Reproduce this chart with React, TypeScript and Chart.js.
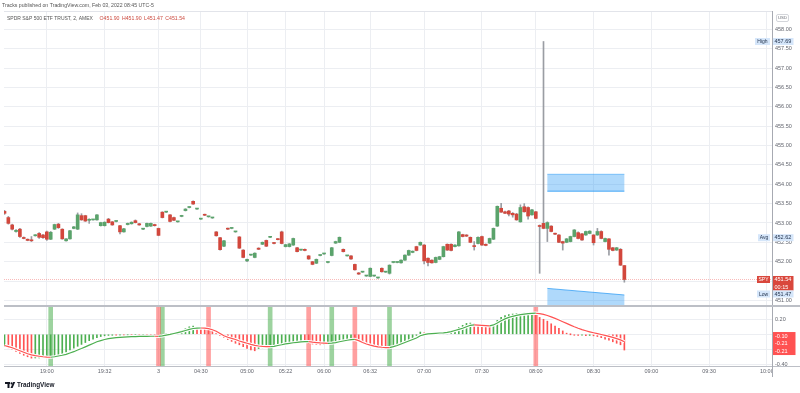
import React, { useEffect, useRef } from "react";
import { Chart, registerables } from "chart.js";
Chart.register(...registerables);

// ---------- DATA ----------
const opens = [453.30,453.14,452.95,452.78,452.84,452.62,452.58,452.55,452.67,452.73,452.69,452.77,452.58,452.84,452.97,452.84,452.54,452.59,452.86,452.84,453.19,453.19,453.07,453.08,453.08,452.93,452.93,453.10,453.03,453.04,452.93,452.77,452.96,452.98,453.06,452.98,452.84,452.91,452.92,452.96,452.86,453.28,453.28,453.21,453.14,453.03,453.17,453.32,453.40,453.56,453.36,453.10,453.22,453.16,453.13,452.77,452.62,452.40,452.86,452.86,452.77,452.64,452.30,452.02,452.17,452.11,452.35,452.45,452.55,452.63,452.49,452.59,452.77,452.39,452.39,452.43,452.36,452.30,452.32,452.15,452.00,451.96,452.16,452.20,451.98,452.16,452.48,452.50,452.32,452.15,452.15,451.93,451.71,451.73,451.63,451.62,451.63,451.58,451.83,451.73,451.70,451.98,451.98,451.97,452.04,452.17,452.24,452.39,452.43,452.43,452.09,452.04,451.98,452.06,452.13,452.45,452.45,452.39,452.41,452.70,452.69,452.63,452.41,452.47,452.65,452.45,452.48,452.58,452.92,453.38,453.29,453.31,453.25,453.23,453.03,453.42,453.40,453.21,453.29,452.93,452.99,452.86,452.92,452.73,452.69,452.52,452.50,452.52,452.65,452.75,452.72,452.69,452.73,452.69,452.69,452.78,452.52,452.59,452.36,452.30,452.32,451.90];
const highs = [453.33,453.17,452.97,452.83,452.86,452.64,452.59,452.65,452.70,452.75,452.71,452.79,452.78,452.97,452.99,452.85,452.60,452.81,452.91,453.26,453.24,453.20,453.11,453.09,453.22,453.02,453.03,453.12,453.04,453.05,452.94,452.86,453.00,453.03,453.08,452.99,452.85,453.00,453.00,452.97,452.87,453.29,453.29,453.22,453.15,453.04,453.20,453.37,453.42,453.57,453.37,453.11,453.23,453.17,453.14,452.78,452.63,452.55,452.87,452.87,452.78,452.65,452.31,452.07,452.18,452.23,452.36,452.51,452.56,452.64,452.50,452.60,452.79,452.45,452.47,452.61,452.37,452.31,452.33,452.16,452.01,452.07,452.17,452.21,451.99,452.37,452.53,452.64,452.33,452.16,452.16,451.94,451.72,451.74,451.64,451.84,451.64,451.59,451.84,451.74,451.92,451.99,451.99,452.05,452.18,452.30,452.28,452.40,452.51,452.44,452.10,452.05,452.12,452.14,452.40,452.46,452.46,452.44,452.78,452.71,452.70,452.64,452.52,452.64,452.66,452.46,452.61,452.87,453.44,453.51,453.31,453.33,453.27,453.25,453.47,453.50,453.42,453.35,453.30,452.95,457.69,453.03,452.93,452.74,452.70,452.53,452.60,452.66,452.83,452.77,452.73,452.79,452.80,452.70,452.86,452.80,452.61,452.60,452.37,452.37,452.34,451.90];
const lows = [453.22,452.97,452.82,452.76,452.63,452.59,452.54,452.52,452.66,452.60,452.60,452.55,452.57,452.83,452.86,452.58,452.53,452.58,452.85,452.83,453.07,453.04,452.99,453.07,453.07,452.92,452.92,453.00,452.94,453.03,452.72,452.76,452.95,452.97,453.00,452.94,452.83,452.90,452.91,452.92,452.67,453.13,453.27,453.03,453.06,453.02,453.16,453.31,453.39,453.48,453.35,453.09,453.19,453.15,453.12,452.66,452.30,452.39,452.83,452.85,452.76,452.34,452.10,452.00,452.16,452.10,452.31,452.44,452.39,452.62,452.46,452.56,452.46,452.38,452.38,452.42,452.25,452.29,452.28,452.06,451.92,451.95,452.15,452.19,451.97,452.15,452.47,452.49,452.25,452.14,452.06,451.78,451.67,451.72,451.62,451.61,451.62,451.57,451.73,451.72,451.68,451.97,451.97,451.96,452.03,452.16,452.23,452.28,452.42,451.94,451.89,451.96,451.97,452.05,452.12,452.29,452.28,452.38,452.40,452.64,452.65,452.49,452.30,452.46,452.42,452.41,452.47,452.57,452.91,453.27,453.24,453.18,453.15,453.07,453.02,453.28,453.10,453.20,453.11,451.70,452.85,452.52,452.77,452.70,452.49,452.30,452.49,452.51,452.64,452.59,452.55,452.68,452.72,452.43,452.68,452.59,452.51,452.17,452.28,452.29,451.90,451.47];
const closes = [453.25,452.99,452.84,452.81,452.65,452.60,452.55,452.54,452.69,452.63,452.62,452.58,452.76,452.96,452.88,452.59,452.59,452.80,452.90,453.21,453.08,453.05,453.08,453.08,453.21,453.01,453.02,453.01,452.95,453.04,452.77,452.85,452.99,453.02,453.01,452.95,452.84,452.99,452.99,452.93,452.68,453.14,453.28,453.04,453.07,453.03,453.19,453.36,453.41,453.49,453.36,453.10,453.20,453.16,453.13,452.67,452.31,452.54,452.84,452.86,452.77,452.35,452.11,452.06,452.17,452.22,452.32,452.50,452.40,452.63,452.47,452.57,452.47,452.44,452.46,452.60,452.26,452.30,452.29,452.07,451.93,452.06,452.16,452.20,451.98,452.36,452.52,452.63,452.26,452.15,452.07,451.79,451.68,451.73,451.63,451.83,451.63,451.58,451.74,451.73,451.91,451.98,451.98,452.04,452.17,452.29,452.27,452.29,452.50,452.02,451.98,451.97,452.11,452.13,452.39,452.30,452.29,452.43,452.77,452.65,452.66,452.50,452.39,452.63,452.43,452.42,452.60,452.86,453.43,453.28,453.25,453.23,453.21,453.08,453.40,453.29,453.18,453.34,453.12,452.91,452.86,453.01,452.78,452.71,452.50,452.48,452.59,452.65,452.82,452.60,452.56,452.78,452.79,452.49,452.78,452.60,452.60,452.32,452.29,452.36,451.91,451.54];

const macdHist = [-0.165,-0.18,-0.20,-0.23,-0.255,-0.28,-0.30,-0.318,-0.316,-0.314,-0.31,-0.305,-0.295,-0.285,-0.27,-0.255,-0.235,-0.21,-0.185,-0.16,-0.135,-0.11,-0.085,-0.065,-0.045,-0.03,-0.02,-0.015,-0.01,-0.012,-0.008,-0.01,-0.006,-0.009,-0.005,-0.007,-0.004,-0.006,-0.01,-0.015,-0.02,-0.008,0.0,0.01,0.02,0.03,0.05,0.075,0.10,0.11,0.09,0.085,0.08,0.075,0.05,0.01,-0.02,-0.045,-0.07,-0.095,-0.12,-0.14,-0.165,-0.19,-0.21,-0.22,-0.19,-0.18,-0.175,-0.165,-0.155,-0.15,-0.14,-0.13,-0.12,-0.115,-0.11,-0.105,-0.11,-0.12,-0.13,-0.135,-0.14,-0.135,-0.125,-0.11,-0.095,-0.08,-0.07,-0.06,-0.055,-0.07,-0.09,-0.11,-0.13,-0.15,-0.165,-0.178,-0.185,-0.19,-0.185,-0.17,-0.15,-0.13,-0.11,-0.08,-0.05,-0.015,0.03,0.02,0.01,0.015,0.012,0.018,0.022,0.03,0.045,0.065,0.09,0.12,0.145,0.15,0.14,0.125,0.11,0.10,0.095,0.12,0.185,0.225,0.25,0.262,0.27,0.276,0.28,0.282,0.283,0.284,0.26,0.225,0.20,0.175,0.14,0.11,0.08,0.045,0.015,0.0,-0.01,-0.015,-0.012,-0.018,-0.015,-0.02,-0.03,-0.045,-0.065,-0.08,-0.10,-0.12,-0.14,-0.21];
const signalLine = [-0.15,-0.165,-0.18,-0.20,-0.22,-0.24,-0.26,-0.275,-0.285,-0.293,-0.30,-0.305,-0.306,-0.30,-0.29,-0.28,-0.267,-0.25,-0.232,-0.21,-0.19,-0.168,-0.145,-0.122,-0.10,-0.085,-0.07,-0.058,-0.05,-0.044,-0.04,-0.037,-0.034,-0.032,-0.03,-0.029,-0.028,-0.027,-0.026,-0.026,-0.028,-0.022,-0.012,-0.002,0.01,0.022,0.035,0.05,0.065,0.077,0.082,0.084,0.082,0.076,0.06,0.04,0.01,-0.02,-0.04,-0.055,-0.07,-0.09,-0.105,-0.12,-0.135,-0.148,-0.156,-0.161,-0.164,-0.165,-0.16,-0.15,-0.14,-0.128,-0.12,-0.113,-0.107,-0.102,-0.098,-0.097,-0.105,-0.11,-0.115,-0.118,-0.12,-0.118,-0.11,-0.10,-0.09,-0.08,-0.07,-0.068,-0.085,-0.11,-0.13,-0.145,-0.158,-0.167,-0.173,-0.177,-0.178,-0.165,-0.15,-0.13,-0.11,-0.09,-0.07,-0.05,-0.02,-0.005,0.005,0.01,0.013,0.017,0.02,0.025,0.035,0.05,0.065,0.08,0.10,0.12,0.125,0.122,0.118,0.115,0.113,0.125,0.15,0.18,0.205,0.225,0.24,0.252,0.262,0.27,0.276,0.28,0.281,0.275,0.265,0.25,0.232,0.212,0.19,0.168,0.145,0.122,0.10,0.08,0.062,0.047,0.033,0.02,0.008,-0.003,-0.015,-0.028,-0.042,-0.058,-0.075,-0.10];

const crossUpBars = [12, 41, 69, 85, 100];
const crossDownBars = [40, 53, 79, 91, 138];

const timeTickBars = [11, 26, 40, 51, 63, 73, 83, 95, 109, 124, 138, 153, 168, 183, 198];
const timeTickLabels = ["19:00", "19:32", "3", "04:30", "05:00", "05:22", "06:00", "06:32", "07:00", "07:30", "08:00", "08:30", "09:00", "09:30", "10:00"];
const priceTicks = [451, 451.5, 452, 452.5, 453, 453.5, 454, 454.5, 455, 455.5, 456, 456.5, 457, 457.5, 458];
const indicatorTicks = [-0.4, -0.2, 0, 0.2];

const avgPrice = 452.62;
const countdownText = "00:15";
const symbolTitle = "SPDR S&P 500 ETF TRUST, 2, AMEX";
const publishLine = "Tracks published on TradingView.com, Feb 03, 2022 08:45 UTC-5";
// zones: [fromBar, toBar, lowPrice, highPrice]
const upperZone = [141, 161, 453.81, 454.27];
// [fromBar, toBar, topPriceAtStart, topPriceAtEnd, bottomPrice]
const lowerZone = [141, 161, 451.31, 451.14, 450.4];

// ---------- VIEW ----------
const X_MIN = -0.13;
const X_MAX = 199.35;
const P_MIN = 450.855;
const P_MAX = 458.478;
const I_MIN = -0.423;
const I_MAX = 0.364;

const FONT = "'Liberation Sans', Arial, sans-serif";
const GRID = "#eceef2";
const AXIS = "#a7aab2";
const SEP = "#bcbfc6";
const TXT = "#62656e";
const UP = "#5aa36b";
const DOWN = "#d2473c";
const WICK = "#9a9da3";
const H_UP = "#4caf50";
const H_DN = "#ff5252";
const TAG_BLUE = "#d5e6fa";
const TAG_BLUE_TXT = "#263650";
const TAG_RED = "#d9473c";

function txt(ctx: CanvasRenderingContext2D, s: string, x: number, y: number, color: string, size: number, align: CanvasTextAlign = "left", weight = "normal") {
  ctx.font = `${weight} ${size}px ${FONT}`;
  ctx.fillStyle = color;
  ctx.textAlign = align;
  ctx.textBaseline = "middle";
  ctx.fillText(s, x, y);
}
function hline(ctx: CanvasRenderingContext2D, x0: number, x1: number, y: number, color: string, w = 1) {
  ctx.strokeStyle = color; ctx.lineWidth = w;
  ctx.beginPath(); ctx.moveTo(x0, y); ctx.lineTo(x1, y); ctx.stroke();
}
function vline(ctx: CanvasRenderingContext2D, x: number, y0: number, y1: number, color: string, w = 1) {
  ctx.strokeStyle = color; ctx.lineWidth = w;
  ctx.beginPath(); ctx.moveTo(x, y0); ctx.lineTo(x, y1); ctx.stroke();
}

const last = closes.length - 1;

const mainPlugin = {
  id: "mainDecor",
  beforeDatasetsDraw(chart: any) {
    const { ctx, chartArea: a } = chart;
    const xs = chart.scales.x, ys = chart.scales.y;
    ctx.save();
    ctx.beginPath(); ctx.rect(a.left, a.top, a.right - a.left, a.bottom - a.top); ctx.clip();
    // upper zone
    const ux0 = xs.getPixelForValue(upperZone[0]), ux1 = xs.getPixelForValue(upperZone[1]);
    const uTop = ys.getPixelForValue(upperZone[3]), uBot = ys.getPixelForValue(upperZone[2]);
    ctx.fillStyle = "rgba(33,150,243,0.36)";
    ctx.fillRect(ux0, uTop, ux1 - ux0, uBot - uTop);
    hline(ctx, ux0, ux1, uTop + 0.5, "rgba(33,150,243,0.35)");
    hline(ctx, ux0, ux1, uBot - 0.5, "rgba(33,150,243,0.7)");
    // lower zone
    const lx0 = xs.getPixelForValue(lowerZone[0]), lx1 = xs.getPixelForValue(lowerZone[1]);
    const l0 = ys.getPixelForValue(lowerZone[2]), l1 = ys.getPixelForValue(lowerZone[3]);
    const lb = ys.getPixelForValue(lowerZone[4]);
    ctx.fillStyle = "rgba(33,150,243,0.36)";
    ctx.beginPath(); ctx.moveTo(lx0, l0); ctx.lineTo(lx1, l1); ctx.lineTo(lx1, lb); ctx.lineTo(lx0, lb); ctx.closePath(); ctx.fill();
    ctx.strokeStyle = "rgba(33,150,243,0.7)"; ctx.lineWidth = 1;
    ctx.beginPath(); ctx.moveTo(lx0, l0); ctx.lineTo(lx1, l1); ctx.stroke();
    // last price dotted line
    const py = Math.round(ys.getPixelForValue(closes[last])) + 0.5;
    ctx.setLineDash([1, 1]);
    hline(ctx, a.left, a.right, py, "rgba(239,83,80,0.4)");
    ctx.setLineDash([]);
    ctx.restore();
  },
  afterDraw(chart: any) {
    const { ctx, chartArea: a } = chart;
    const ys = chart.scales.y;
    ctx.save();
    hline(ctx, a.left, a.right, a.top + 0.5, "#e2e4ea");
    vline(ctx, a.right + 0.5, a.top, chart.height, AXIS);
    hline(ctx, a.left, chart.width, chart.height - 1, SEP, 2);

    // header
    txt(ctx, publishLine, 2, 6, "#555", 5.2);
    txt(ctx, symbolTitle, 7, 18.3, "#555", 5);
    ctx.font = `5.2px ${FONT}`;
    let hx = 7 + ctx.measureText(symbolTitle).width + 3.5;
    const parts = ["O" + opens[last].toFixed(2), "H" + highs[last].toFixed(2), "L" + lows[last].toFixed(2), "C" + closes[last].toFixed(2)];
    for (const p of parts) {
      txt(ctx, p, hx, 18.3, "#cc4a3f", 5.2);
      ctx.font = `5.2px ${FONT}`;
      hx += ctx.measureText(p).width + 2.5;
    }

    // USD box
    ctx.strokeStyle = "#c8cad0"; ctx.lineWidth = 0.8;
    ctx.beginPath(); (ctx as any).roundRect ? (ctx as any).roundRect(776.5, 14.5, 12, 7, 1.5) : ctx.rect(776.5, 14.5, 12, 7); ctx.stroke();
    txt(ctx, "USD", 782.5, 18.1, "#6a6d76", 4.3, "center");

    const tag = (label: string, cy: number, x0: number, bg: string, fg: string, lines: string[]) => {
      const h = 7;
      ctx.fillStyle = bg;
      ctx.fillRect(x0, cy - h / 2, 770 - x0, h);
      txt(ctx, label, (x0 + 770) / 2, cy + 0.2, fg, 5, "center");
      const ph = h + (lines.length - 1) * 7.5;
      ctx.fillStyle = bg;
      ctx.fillRect(773, cy - h / 2, 20.5, ph);
      lines.forEach((s, k) => txt(ctx, s, 774.5, cy + 0.2 + k * 7.5, fg, 5.5));
    };
    const maxHigh = Math.max(...highs);
    const minLow = Math.min(...lows);
    tag("High", ys.getPixelForValue(maxHigh), 755, TAG_BLUE, TAG_BLUE_TXT, [maxHigh.toFixed(2)]);
    tag("Avg", ys.getPixelForValue(avgPrice), 758, TAG_BLUE, TAG_BLUE_TXT, [avgPrice.toFixed(2)]);
    const spyY = ys.getPixelForValue(closes[last]);
    tag("SPY", spyY, 757, TAG_RED, "#ffffff", [closes[last].toFixed(2), countdownText]);
    const lowY = Math.max(ys.getPixelForValue(minLow), spyY + 3.5 + 7.5 + 3.5);
    tag("Low", lowY, 757, TAG_BLUE, TAG_BLUE_TXT, [minLow.toFixed(2)]);
    ctx.restore();
  },
};

const indPlugin = {
  id: "indDecor",
  afterDraw(chart: any) {
    const { ctx, chartArea: a } = chart;
    const ys = chart.scales.y;
    ctx.save();
    ctx.fillStyle = "#ffffff";
    ctx.fillRect(a.right, a.bottom + 0.5, chart.width - a.right, chart.height - a.bottom);
    hline(ctx, a.left, chart.width, a.bottom + 0.5, SEP);
    vline(ctx, a.right + 0.5, 0, a.bottom + 11, AXIS);

    // value labels
    const vals = [signalLine[last], macdHist[last], macdHist[last]].sort((p, q) => q - p);
    const baseY = ys.getPixelForValue(Math.min(...vals)) + 1;
    const n = vals.length;
    const top = baseY - (n - 1) * 7.5 - 4;
    ctx.fillStyle = "#ff5252";
    ctx.fillRect(773, top, 22.5, (n - 1) * 7.5 + 8);
    vals.forEach((v, k) => txt(ctx, v.toFixed(2), 775, baseY - (n - 1 - k) * 7.5, "#ffffff", 5.5));

    // logo
    const ly = 78;
    ctx.fillStyle = "#131722";
    ctx.fillRect(5, ly - 3, 5, 2);
    ctx.fillRect(7.5, ly - 3, 2, 6);
    ctx.beginPath(); ctx.arc(11.6, ly - 1.6, 1.1, 0, Math.PI * 2); ctx.fill();
    ctx.beginPath(); ctx.moveTo(10.5, ly + 3); ctx.lineTo(13.2, ly - 3); ctx.lineTo(15.2, ly - 3); ctx.lineTo(12.6, ly + 3); ctx.closePath(); ctx.fill();
    txt(ctx, "TradingView", 17, ly + 0.3, "#131722", 6.4, "left", "bold");
    ctx.restore();
  },
};

const fitRightAxis = (s: any) => {
  s.width = 28;
  s.paddingTop = 0;
  s.paddingBottom = 0;
};

export default function App() {
  const refA = useRef<HTMLCanvasElement>(null);
  const refB = useRef<HTMLCanvasElement>(null);

  useEffect(() => {
    if (!refA.current || !refB.current) return;
    const isUp = opens.map((o, i) => closes[i] >= o);
    const bodyData = opens.map((o, i) => ({ x: i, y: [Math.min(o, closes[i]), Math.max(o, closes[i])] }));
    const wickData = opens.map((_o, i) => ({ x: i, y: [lows[i], highs[i]] }));

    const xCommon = {
      type: "linear" as const,
      min: X_MIN,
      max: X_MAX,
      offset: false,
      border: { display: false },
      grid: { color: GRID, drawTicks: false, offset: false },
      afterBuildTicks: (s: any) => { s.ticks = timeTickBars.map((v) => ({ value: v })); },
    };

    const chartA = new Chart(refA.current, {
      type: "bar",
      data: {
        datasets: [
          {
            data: bodyData as any,
            backgroundColor: isUp.map((u) => (u ? UP : DOWN)),
            barThickness: 3,
            minBarLength: 1,
            grouped: false,
            order: 1,
          } as any,
          {
            data: wickData as any,
            backgroundColor: WICK,
            barThickness: 1,
            grouped: false,
            order: 2,
          } as any,
        ],
      },
      options: {
        animation: false,
        responsive: false,
        events: [],
        layout: { padding: { top: 11, left: 4, right: 0, bottom: 1 } },
        plugins: { legend: { display: false }, tooltip: { enabled: false } },
        scales: {
          x: {
            ...xCommon,
            ticks: { display: false },
            afterFit: (s: any) => { s.height = 0; s.paddingLeft = 0; s.paddingRight = 0; },
          } as any,
          y: {
            position: "right",
            min: P_MIN,
            max: P_MAX,
            border: { display: false },
            grid: { color: GRID, drawTicks: false },
            ticks: { font: { family: FONT, size: 5.5 }, color: TXT, padding: 3, callback: (v: any) => Number(v).toFixed(2) },
            afterBuildTicks: (s: any) => { s.ticks = priceTicks.map((v) => ({ value: v })); },
            afterFit: fitRightAxis,
          } as any,
        },
      },
      plugins: [mainPlugin],
    });

    const histColors = macdHist.map((v, i) => (i === 0 || v >= macdHist[i - 1] ? H_UP : H_DN));
    const histData = macdHist.map((v, i) => ({ x: i, y: v }));
    const sigData = signalLine.map((v, i) => ({ x: i, y: v }));
    const bands = [
      ...crossUpBars.map((b) => ({ x: b, y: [I_MIN, I_MAX], c: "rgba(76,175,80,0.55)" })),
      ...crossDownBars.map((b) => ({ x: b, y: [I_MIN, I_MAX], c: "rgba(255,82,82,0.55)" })),
    ];

    const chartB = new Chart(refB.current, {
      type: "bar",
      data: {
        datasets: [
          {
            type: "line",
            data: sigData as any,
            borderWidth: 1.2,
            pointRadius: 0,
            borderColor: H_UP,
            segment: { borderColor: (c: any) => (c.p1.parsed.y >= c.p0.parsed.y ? H_UP : H_DN) },
            order: 1,
          } as any,
          {
            type: "line",
            data: sigData as any,
            borderWidth: 3.2,
            pointRadius: 0,
            borderColor: "#ffffff",
            order: 2,
          } as any,
          {
            data: histData as any,
            backgroundColor: histColors,
            barThickness: 1,
            minBarLength: 1,
            grouped: false,
            order: 3,
          } as any,
          {
            data: bands.map((b) => ({ x: b.x, y: b.y })) as any,
            backgroundColor: bands.map((b) => b.c),
            barThickness: 4,
            grouped: false,
            order: 4,
          } as any,
        ],
      },
      options: {
        animation: false,
        responsive: false,
        events: [],
        layout: { padding: { top: 0, left: 4, right: 0, bottom: 13 } },
        plugins: { legend: { display: false }, tooltip: { enabled: false } },
        scales: {
          x: {
            ...xCommon,
            ticks: {
              display: true,
              autoSkip: false,
              maxRotation: 0,
              padding: 2,
              font: { family: FONT, size: 5.5 },
              color: TXT,
              callback: (_v: any, i: number) => timeTickLabels[i] ?? "",
            },
            afterFit: (s: any) => { s.height = 14; s.paddingLeft = 0; s.paddingRight = 0; },
          } as any,
          y: {
            position: "right",
            min: I_MIN,
            max: I_MAX,
            border: { display: false },
            grid: { color: GRID, drawTicks: false },
            ticks: { font: { family: FONT, size: 5.5 }, color: TXT, padding: 3, callback: (v: any) => Number(v).toFixed(2) },
            afterBuildTicks: (s: any) => { s.ticks = indicatorTicks.map((v) => ({ value: v })); },
            afterFit: fitRightAxis,
          } as any,
        },
      },
      plugins: [indPlugin],
    });

    return () => {
      chartA.destroy();
      chartB.destroy();
    };
  }, []);

  return (
    <div style={{ position: "absolute", left: 0, top: 0, width: 800, height: 393, background: "#ffffff", overflow: "hidden" }}>
      <canvas ref={refA} width={800} height={307} style={{ position: "absolute", left: 0, top: 0, width: 800, height: 307 }} />
      <canvas ref={refB} width={800} height={86} style={{ position: "absolute", left: 0, top: 307, width: 800, height: 86 }} />
    </div>
  );
}
